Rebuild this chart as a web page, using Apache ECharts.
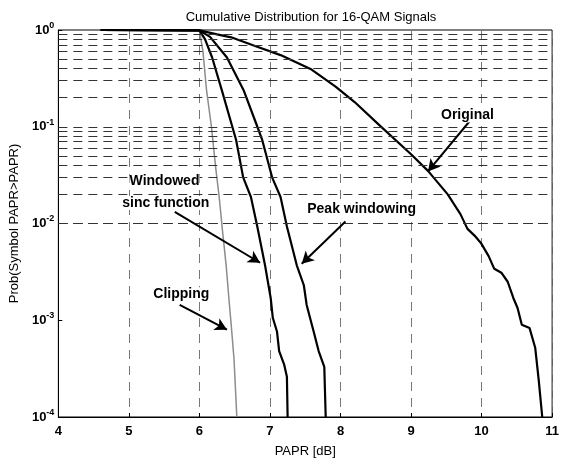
<!DOCTYPE html>
<html><head><meta charset="utf-8">
<script src="https://cdn.jsdelivr.net/npm/echarts@6/dist/echarts.min.js"></script>
<style>html,body{margin:0;padding:0;background:#fff}#c{width:562px;height:463px}</style>
</head><body><div id="c"></div>
<script>
// ---- data (PAPR dB, probability) ----
var originalX = [4.6, 6.0, 6.25, 6.45, 6.75, 7.15, 7.59, 7.93, 8.2, 8.55, 9.0, 9.24, 9.52, 9.70, 9.80, 9.90, 9.99, 10.1, 10.18, 10.28, 10.37, 10.45, 10.51, 10.57, 10.68, 10.76, 10.81, 10.86];
var originalY = [1, 0.99, 0.9, 0.84, 0.70, 0.55, 0.39, 0.26, 0.18, 0.104, 0.052, 0.035, 0.020, 0.0125, 0.0088, 0.0075, 0.0063, 0.0046, 0.0034, 0.0031, 0.0025, 0.0017, 0.00134, 0.0009, 0.00083, 0.00052, 0.00024, 0.0001];
var peakX = [4.6, 6.0, 6.15, 6.39, 6.63, 6.80, 6.89, 7.03, 7.15, 7.24, 7.38, 7.48, 7.52, 7.62, 7.69, 7.77, 7.79];
var peakY = [1, 0.99, 0.85, 0.52, 0.235, 0.11, 0.073, 0.030, 0.0188, 0.0093, 0.0037, 0.0023, 0.00144, 0.00076, 0.00048, 0.00033, 0.0001];
var sincX = [4.6, 6.0, 6.08, 6.18, 6.32, 6.45, 6.52, 6.62, 6.73, 6.82, 6.93, 7.01, 7.04, 7.10, 7.13, 7.20, 7.24, 7.25];
var sincY = [1, 0.99, 0.8, 0.52, 0.235, 0.11, 0.073, 0.030, 0.0188, 0.0093, 0.0037, 0.0017, 0.00106, 0.00076, 0.00048, 0.00035, 0.00026, 0.0001];
var clipX = [4.6, 6.0, 6.05, 6.1, 6.17, 6.23, 6.28, 6.33, 6.38, 6.42, 6.45, 6.49, 6.53];
var clipY = [1, 0.99, 0.6, 0.24, 0.1, 0.038, 0.0188, 0.008, 0.0036, 0.0016, 0.0009, 0.0004, 0.0001];

var xTicks = [4, 5, 6, 7, 8, 9, 10, 11];
var decades = [-4, -3, -2, -1, 0];
var minorMultipliers = [1, 2, 3, 4, 5, 6, 7, 8, 9];

// annotations in data coordinates
var labelTexts = ['Original', 'Peak windowing', 'Windowed', 'sinc function', 'Clipping'];
var labelPos = [[9.80, 0.131], [8.30, 0.0142], [6.0, 0.0272], [6.14, 0.0163], [6.14, 0.00186]];
var labelAlign = ['center', 'center', 'right', 'right', 'right'];
var arrowTail = [[9.83, 0.114], [8.07, 0.0105], [5.65, 0.0132], [5.72, 0.00144]];
var arrowHead = [[9.24, 0.0345], [7.45, 0.00384], [6.86, 0.00393], [6.39, 0.0008]];

function zip(a, b) { return a.map(function (v, i) { return [v, b[i]]; }); }

var gridLevels = [];
decades.slice(0, 4).forEach(function (d) {
  minorMultipliers.forEach(function (m) {
    var v = m * Math.pow(10, d);
    if (!(m === 1 && d === -4)) gridLevels.push(v);
  });
});

var FONT = '"Liberation Sans", Arial, sans-serif';
var chart = echarts.init(document.getElementById('c'), null, { renderer: 'canvas' });

var option = {
  animation: false,
  backgroundColor: '#fff',
  title: {
    text: 'Cumulative Distribution for 16-QAM Signals',
    left: 306, top: 6, textAlign: 'center',
    textStyle: { fontFamily: FONT, fontSize: 13, fontWeight: 'normal', color: '#000' }
  },
  grid: { left: 58, right: 7, top: 30, bottom: 39, show: true, borderColor: '#000', borderWidth: 1, backgroundColor: 'transparent' },
  xAxis: {
    type: 'value', min: 4, max: 11, interval: 1,
    name: 'PAPR [dB]', nameLocation: 'middle', nameGap: 28,
    nameTextStyle: { fontFamily: FONT, fontSize: 13, color: '#000' },
    axisLine: { show: true, lineStyle: { color: '#000', width: 1 } },
    axisTick: { show: true, inside: true, length: 4, lineStyle: { color: '#000' } },
    axisLabel: { fontFamily: FONT, fontSize: 13, fontWeight: 'bold', color: '#000', margin: 8,
      formatter: function (v) { return xTicks.indexOf(v) >= 0 ? String(v) : ''; } },
    splitLine: { show: true, lineStyle: { color: '#777', width: 1, type: [9, 7] } }
  },
  yAxis: {
    type: 'log', min: 1e-4, max: 1, logBase: 10,
    name: 'Prob(Symbol PAPR>PAPR)', nameLocation: 'middle', nameGap: 30,
    nameTextStyle: { fontFamily: FONT, fontSize: 13, color: '#000' },
    axisLine: { show: true, lineStyle: { color: '#000', width: 1 } },
    axisTick: { show: true, inside: true, length: 4, lineStyle: { color: '#000' } },
    axisLabel: {
      margin: 4,
      formatter: function (v) {
        var e = Math.round(Math.log10(v));
        return '{b|10}{s|' + e + '}';
      },
      rich: {
        b: { fontFamily: FONT, fontSize: 13, fontWeight: 'bold', color: '#000' },
        s: { fontFamily: FONT, fontSize: 9, fontWeight: 'bold', color: '#000', padding: [0, 0, 9, 0] }
      }
    },
    splitLine: { show: false }
  },
  series: [
    {
      type: 'line', name: 'grid', data: [], silent: true,
      markLine: {
        silent: true, symbol: 'none', label: { show: false },
        lineStyle: { color: '#333', width: 1, type: [9, 6] },
        data: gridLevels.map(function (v) { return { yAxis: v }; })
      }
    },
    { type: 'line', name: 'Clipping', data: zip(clipX, clipY), showSymbol: false, lineStyle: { color: '#8c8c8c', width: 1.5 } },
    { type: 'line', name: 'Windowed sinc', data: zip(sincX, sincY), showSymbol: false, lineStyle: { color: '#000', width: 2.2 } },
    { type: 'line', name: 'Peak windowing', data: zip(peakX, peakY), showSymbol: false, lineStyle: { color: '#000', width: 2.2 } },
    { type: 'line', name: 'Original', data: zip(originalX, originalY), showSymbol: false, lineStyle: { color: '#000', width: 2.2 } },
    {
      type: 'line', name: 'arrows', data: [], silent: true,
      markLine: {
        silent: true, symbol: ['none', 'arrow'], symbolSize: [10, 12], label: { show: false },
        lineStyle: { color: '#000', width: 2, type: 'solid' },
        data: arrowTail.map(function (t, i) { return [{ coord: t }, { coord: arrowHead[i] }]; })
      }
    }
  ]
};
chart.setOption(option);

var gfx = labelTexts.map(function (t, i) {
  var p = chart.convertToPixel({ gridIndex: 0 }, labelPos[i]);
  return {
    type: 'text', x: p[0], y: p[1], z: 100,
    style: { text: t, fontFamily: FONT, fontSize: 14, fontWeight: 'bold', fill: '#000', align: labelAlign[i], verticalAlign: 'middle', backgroundColor: '#fff' }
  };
});
chart.setOption({ graphic: gfx });
</script></body></html>
